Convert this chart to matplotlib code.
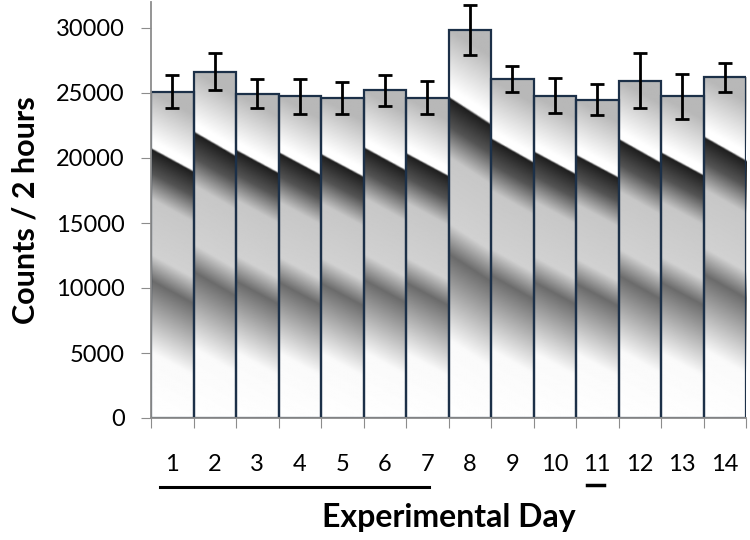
import matplotlib
matplotlib.use('Agg')
import matplotlib.pyplot as plt
import numpy as np

# Counts per 2 hours for each experimental day (mean and error)
days = list(range(1, 15))
counts = [25100, 26650, 24950, 24750, 24600, 25200, 24650,
          29850, 26050, 24800, 24500, 25950, 24750, 26200]
errors = [1250, 1400, 1100, 1330, 1220, 1220, 1300,
          1900, 1000, 1370, 1180, 2100, 1720, 1100]
tick_labels = [str(d) for d in days]

plt.rcParams['font.family'] = ['Lato', 'DejaVu Sans']

fig = plt.figure(figsize=(7.5, 5.4), dpi=100)
ax = fig.add_axes([151 / 750, 122 / 540, 595 / 750, 416 / 540])

# diagonal banded gray gradient, like the Excel fill
stops = [0.0, 0.15, 0.172, 0.178, 0.25, 0.33, 0.5, 0.58, 0.8, 1.0]
greys = [0.72, 1.0, 1.0, 0.12, 0.33, 0.78, 0.82, 0.42, 0.98, 1.0]
u = np.linspace(0, 1, 40)
v = np.linspace(0, 1, 400)
U, V = np.meshgrid(u, v)
S = V - 0.07 * U
grad = np.interp(S, stops, greys)

for d, c in zip(days, counts):
    ax.imshow(grad, cmap='gray', vmin=0, vmax=1, aspect='auto',
              extent=(d - 0.5, d + 0.5, 0, c), origin='upper',
              interpolation='bilinear', zorder=1)

ax.bar(days, counts, width=1.0, facecolor='none', edgecolor='#1c3048',
       linewidth=1.6, zorder=2)
ax.errorbar(days, counts, yerr=errors, fmt='none', ecolor='black',
            elinewidth=2, capsize=5, capthick=2, zorder=3)

ax.set_xlim(0.5, 14.5)
ax.set_ylim(0, 32000)
ax.set_yticks(np.arange(0, 30001, 5000))
ax.set_xticks(np.arange(0.5, 15, 1))
ax.set_xticklabels([])
ax.set_xticks(days, minor=True)
ax.set_xticklabels(tick_labels, minor=True)

for side in ['top', 'right']:
    ax.spines[side].set_visible(False)
for side in ['left', 'bottom']:
    ax.spines[side].set_color('#8c8c8c')
    ax.spines[side].set_linewidth(1.3)

ax.tick_params(axis='y', direction='out', length=7, color='#8c8c8c',
               labelsize=17, pad=12)
ax.tick_params(axis='x', which='major', direction='out', length=7,
               color='#8c8c8c')
ax.tick_params(axis='x', which='minor', length=0, labelsize=17, pad=26)

ax.set_ylabel('Counts / 2 hours', fontsize=22, fontweight='bold', labelpad=12)
ax.set_xlabel('Experimental Day', fontsize=23, fontweight='bold', labelpad=20)

# underlines below day groups
trans = ax.get_xaxis_transform()
ax.plot([0.7, 7.05], [-0.165, -0.165], transform=trans, color='black',
        linewidth=2.2, clip_on=False)
ax.plot([10.75, 11.17], [-0.16, -0.16], transform=trans, color='black',
        linewidth=2.5, clip_on=False)

fig.savefig('out.png', dpi=100)
